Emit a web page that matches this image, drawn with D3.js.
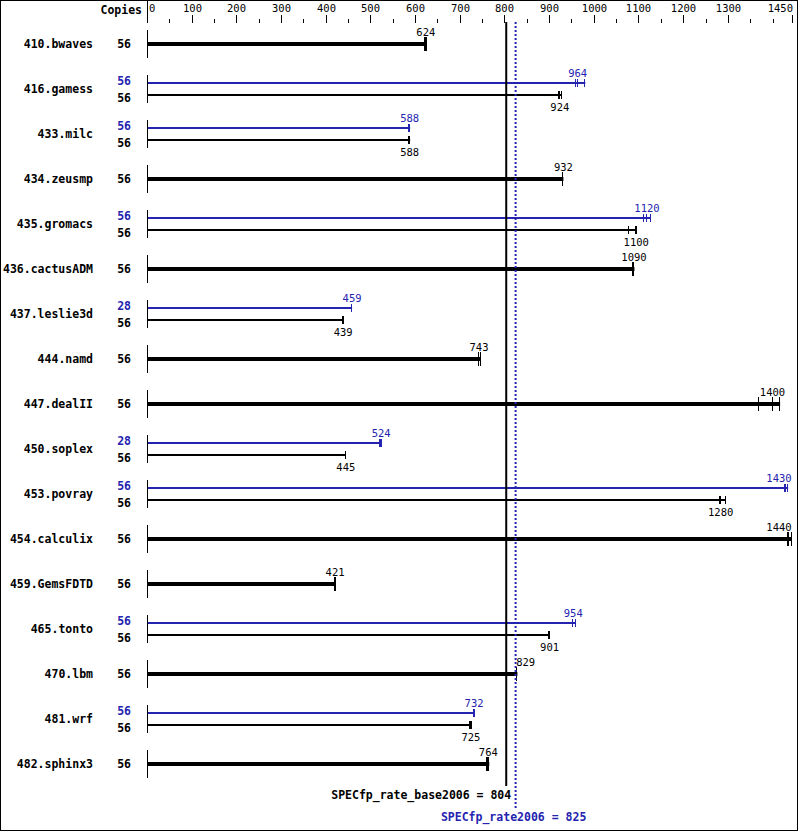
<!DOCTYPE html>
<html><head><meta charset="utf-8">
<script src="https://cdn.jsdelivr.net/npm/d3@7"></script>
<style>body{margin:0;background:#fff}svg{display:block}</style>
</head><body>
<script>
// ---- data ----
const benchmarks = ["410.bwaves","416.gamess","433.milc","434.zeusmp","435.gromacs","436.cactusADM","437.leslie3d","444.namd","447.dealII","450.soplex","453.povray","454.calculix","459.GemsFDTD","465.tonto","470.lbm","481.wrf","482.sphinx3"];
const baseCopies = [56,56,56,56,56,56,56,56,56,56,56,56,56,56,56,56,56];
const peakCopies = [null,56,56,null,56,null,28,null,null,28,56,null,null,56,null,56,null];
const baseValues = [624,924,588,932,1100,1090,439,743,1400,445,1280,1440,421,901,829,725,764];
const peakValues = [null,964,588,null,1120,null,459,null,null,524,1430,null,null,954,null,732,null];
const baseRuns = [[622,624,626],[923,924,928],[587,588,589],[932,932,932],[1079,1095,1096],[1088,1090,1091],[438,439,440],[742,743,747],[1369,1400,1417],[445,445,445],[1282,1284,1295],[1435,1438,1443],[420,421,422],[900,901,902],[829,829,829],[724,725,727],[762,764,766]];
const peakRuns = [null,[961,964,981],[587,588,589],null,[1112,1119,1127],null,[459,459,459],null,null,[522,524,526],[1429,1430,1435],null,null,[953,954,960],null,[731,732,733],null];
const axisTicks = d3.range(0, 1451, 50);
const axisLabels = [0,100,200,300,400,500,600,700,800,900,1000,1100,1200,1300,1450];
const baseMetric = {name:"SPECfp_rate_base2006", value:804};
const peakMetric = {name:"SPECfp_rate2006", value:825};

// ---- drawing ----
const W = 799, H = 831;
const BLUE = "#2424b0";
const MONO = "'DejaVu Sans Mono', 'Liberation Mono', monospace";
const svg = d3.select("body").append("svg").attr("width", W).attr("height", H);
svg.append("rect").attr("x",0.5).attr("y",0.5).attr("width",W-2).attr("height",H-1)
  .attr("fill","#fff").attr("stroke","#000");

const x = d3.scaleLinear().domain([0,1450]).range([147, 147+1450*0.4468]);
const y = d3.scalePoint().domain(benchmarks).range([44, 764]);
const xMaxTick = 791.5;
const px = v => Math.min(x(v), xMaxTick);

// top axis
svg.append("text").text("Copies").attr("x",142).attr("y",14).attr("text-anchor","end")
  .attr("font-family",MONO).attr("font-weight","bold").attr("font-size","11.5px");
svg.append("line").attr("x1",147.5).attr("x2",147.5).attr("y1",0).attr("y2",23).attr("stroke","#000");
axisTicks.forEach(v => {
  const major = axisLabels.includes(v);
  const xx = Math.round(px(v)) + 0.5;
  if (v > 0) svg.append("line").attr("x1",xx).attr("x2",xx).attr("y1", major?15:19).attr("y2",23).attr("stroke","#000");
  if (major) {
    const t = svg.append("text").text(v).attr("y",11.5).attr("font-family",MONO).attr("font-size","10.5px");
    if (v === 0) t.attr("x",149).attr("text-anchor","start");
    else if (v === 1450) t.attr("x",xx+0.5).attr("text-anchor","end");
    else t.attr("x",xx).attr("text-anchor","middle");
  }
});

const refBase = x(baseMetric.value), refPeak = x(peakMetric.value);

function labelX(cx, w) {
  let c = Math.min(cx, 791 - w/2);
  const lo = c - w/2, hi = c + w/2;
  if ((lo < refPeak+1 && hi > refBase-1)) c = refPeak + 1 + w/2;
  return c;
}

benchmarks.forEach((b, i) => {
  const cy = y(b);
  const paired = peakValues[i] !== null;
  // row axis segment
  svg.append("line").attr("x1",147.5).attr("x2",147.5).attr("y1",cy-14).attr("y2",cy+14).attr("stroke","#000");
  svg.append("text").text(b).attr("x",93).attr("y",cy+4).attr("text-anchor","end")
    .attr("font-family",MONO).attr("font-weight","bold").attr("font-size","11.5px");
  const drawBar = (yy, runs, value, copies, color, thick, labelPos, copiesY) => {
    const maxR = d3.max(runs);
    const hw = thick ? 4 : 2;
    svg.append("rect").attr("x",148).attr("y",yy-hw/2).attr("width",Math.max(0,x(maxR)-148)).attr("height",hw).attr("fill",color);
    const th = thick ? 7 : 4;
    runs.forEach(r => {
      const xx = Math.round(x(r)) - 0.5;
      svg.append("line").attr("x1",xx).attr("x2",xx).attr("y1",yy-th).attr("y2",yy+th).attr("stroke",color);
    });
    const txt = String(value);
    const w = txt.length * 6.0;
    const cx = labelX(x(runs[1]), w);
    svg.append("text").text(txt).attr("x",cx).attr("y", labelPos==="above" ? yy-(thick?8:6) : yy+15.5)
      .attr("text-anchor","middle").attr("font-family",MONO).attr("font-size","10.5px").attr("fill",color);
    svg.append("text").text(copies).attr("x",131).attr("y",copiesY).attr("text-anchor","end")
      .attr("font-family",MONO).attr("font-weight","bold").attr("font-size","11.5px").attr("fill",color);
  };
  if (paired) {
    const yp = cy - 6, yb = cy + 6;
    drawBar(yp, peakRuns[i], peakValues[i], peakCopies[i], BLUE, false, "above", cy-4.5);
    drawBar(yb, baseRuns[i], baseValues[i], baseCopies[i], "#000", false, "below", cy+13);
  } else {
    drawBar(cy, baseRuns[i], baseValues[i], baseCopies[i], "#000", true, "above", cy+4);
  }
});

// reference lines
svg.append("line").attr("x1",refBase).attr("x2",refBase).attr("y1",22).attr("y2",786)
  .attr("stroke","#000").attr("stroke-width",2);
svg.append("line").attr("x1",refPeak).attr("x2",refPeak).attr("y1",22).attr("y2",808)
  .attr("stroke",BLUE).attr("stroke-width",2).attr("stroke-dasharray","2,2");
svg.append("text").text(`${baseMetric.name} = ${baseMetric.value}`).attr("x",refBase+5).attr("y",799)
  .attr("text-anchor","end").attr("font-family",MONO).attr("font-weight","bold").attr("font-size","11.5px");
svg.append("text").text(`${peakMetric.name} = ${peakMetric.value}`).attr("x",refPeak-2).attr("y",821)
  .attr("text-anchor","middle").attr("font-family",MONO).attr("font-weight","bold").attr("font-size","11.5px").attr("fill",BLUE);
</script>
</body></html>
